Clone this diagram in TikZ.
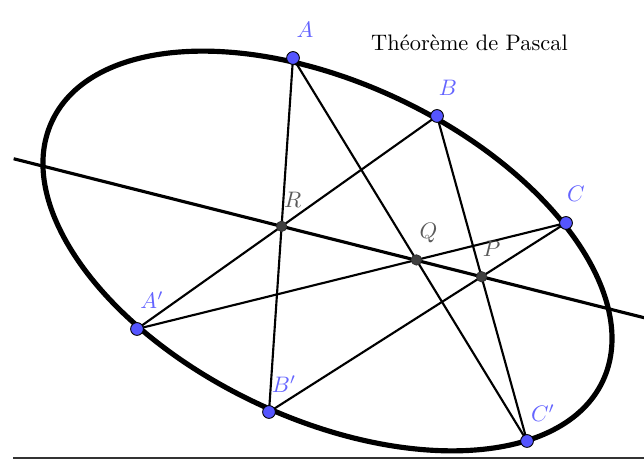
\documentclass[tikz,border=0pt]{standalone}
\usepackage{tikz}
\usetikzlibrary{calc}
\definecolor{PointBlue}{RGB}{85, 85, 255}
\definecolor{LabelBlue}{RGB}{100, 100, 255}
\definecolor{PointGray}{RGB}{64, 64, 64}
\definecolor{LabelGray}{RGB}{90, 90, 90}
\tikzset{
    conic/.style={line width=2.3pt},
    chord/.style={line width=0.95pt},
    pascalline/.style={line width=1.4pt},
    axisline/.style={line width=0.5pt, draw=black!80},
    vertex/.style={circle, fill=PointBlue, draw=black, line width=0.4pt, inner sep=0pt, minimum size=5.7pt},
    meet/.style={circle, fill=PointGray, draw=black!80, line width=0.4pt, inner sep=0pt, minimum size=4.6pt},
    vtext/.style={text=LabelBlue, inner sep=1pt},
    mtext/.style={text=LabelGray, inner sep=1pt}
}

\begin{document}
\begin{tikzpicture}[x=0.446pt, y=0.446pt]
    \useasboundingbox (0,0) rectangle (644,460);
    % points on the conic
    \coordinate (A) at (293,402);
    \coordinate (B) at (437,344);
    \coordinate (C) at (566,237);
    \coordinate (A') at (137,131);
    \coordinate (B') at (269,48);
    \coordinate (C') at (527,19);
    \coordinate (O) at (327.5,209);
    % intersections of opposite sides
    \coordinate (R) at (intersection of A--B' and B--A');
    \coordinate (Q) at (intersection of A--C' and C--A');
    \coordinate (P) at (intersection of B--C' and C--B');
    \coordinate (L1) at ($(R)!-1.34!(P)$);
    \coordinate (L2) at ($(R)!1.82!(P)$);
    \coordinate (ax0) at (13,2);
    \coordinate (ax1) at (644,2);

    \draw[axisline] (ax0) -- (ax1);
    \draw[conic, rotate around={-25.3:(O)}] (O) ellipse [x radius=304.5, y radius=167.8];

    \draw[chord] (A) -- (B') (A) -- (C');
    \draw[chord] (B) -- (A') (B) -- (C');
    \draw[chord] (C) -- (A') (C) -- (B');
    \draw[pascalline] (L1) -- (L2);

    \foreach \p in {A,B,C,A',B',C'}
        \node[vertex] (pt\p) at (\p) {};
    \foreach \p in {R,Q,P}
        \node[meet] (pt\p) at (\p) {};

    \node[vtext] (lA) at ($(A)+(12,28)$) {$A$};
    \node[vtext] (lB) at ($(B)+(11,28)$) {$B$};
    \node[vtext] (lC) at ($(C)+(10,29)$) {$C$};
    \node[vtext] (lA') at ($(A')+(15,29)$) {$A'$};
    \node[vtext] (lB') at ($(B')+(15,28)$) {$B'$};
    \node[vtext] (lC') at ($(C')+(16,28)$) {$C'$};
    \node[mtext] (lR) at ($(R)+(11,26)$) {$R$};
    \node[mtext] (lQ) at ($(Q)+(12,27)$) {$Q$};
    \node[mtext] (lP) at ($(P)+(10,28)$) {$P$};

    \node (title) at (469.5,417) {Théorème de Pascal};
\end{tikzpicture}
\end{document}
